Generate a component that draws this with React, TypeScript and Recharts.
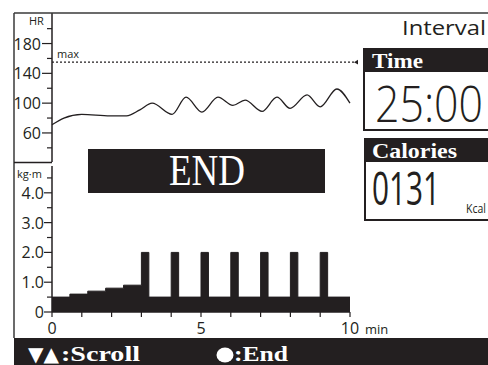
import React from 'react';
import { LineChart, Line, AreaChart, Area, XAxis, YAxis, ReferenceLine } from 'recharts';

const INK = '#231f20';
const SANS = '"Open Sans", "Liberation Sans", sans-serif';
const SERIF = '"Liberation Serif", "DejaVu Serif", serif';

// heart rate trace (minutes, bpm)
const hrTimes = [0, 0.4, 1.0, 1.95, 2.5, 2.95, 3.36, 4.03, 4.5, 5.03, 5.57, 6.07, 6.48, 7.05, 7.55, 7.99, 8.56, 9.0, 9.56, 10];
const hrValues = [71, 80, 85, 83, 83, 91, 100, 85, 108, 88, 108, 97, 104, 89, 108, 93, 111, 95, 119, 100];
const hrMax = 155;
const hrTicks = [40, 60, 80, 100, 120, 140, 160, 180, 200];
const hrLabels = [60, 100, 140, 180];

// load profile (minutes, kg·m), step changes
const loadTimes = [0, 0.6, 1.2, 1.8, 2.4, 3.0, 3.25, 4.0, 4.25, 5.0, 5.25, 6.0, 6.25, 7.0, 7.25, 8.0, 8.25, 9.0, 9.25, 10];
const loadValues = [0.5, 0.6, 0.7, 0.8, 0.9, 2.0, 0.5, 2.0, 0.5, 2.0, 0.5, 2.0, 0.5, 2.0, 0.5, 2.0, 0.5, 2.0, 0.5, 0.5];
const loadTicks = [0, 0.5, 1, 1.5, 2, 2.5, 3, 3.5, 4, 4.5];
const loadLabels = [0, 1, 2, 3, 4];

const minuteTicks = [0, 1, 2, 3, 4, 5, 6, 7, 8, 9, 10];
const minuteLabels = [0, 5, 10];

const hrData = hrTimes.map((t, i) => ({ t, hr: hrValues[i] }));
const loadData = loadTimes.map((t, i) => ({ t, load: loadValues[i] }));

const HrTick = (props: any) => {
  const { x, y, payload } = props;
  const major = hrLabels.includes(payload.value);
  return (
    <g>
      <line x1={x - (major ? 10 : 5)} x2={x} y1={y} y2={y} stroke={INK} strokeWidth={1.2} />
      {major && (
        <text x={x - 11} y={y + 6} textAnchor="end" fontFamily={SANS} fontSize={16} fill={INK}>
          {payload.value}
        </text>
      )}
    </g>
  );
};

const LoadTick = (props: any) => {
  const { x, y, payload } = props;
  const major = loadLabels.includes(payload.value);
  return (
    <g>
      <line x1={x - (major ? 8 : 5)} x2={x} y1={y} y2={y} stroke={INK} strokeWidth={1.2} />
      {major && (
        <text x={x - 8} y={y + 6} textAnchor="end" fontFamily={SANS} fontSize={16} fill={INK}>
          {payload.value === 0 ? '0' : payload.value.toFixed(1)}
        </text>
      )}
    </g>
  );
};

const MinuteTick = (props: any) => {
  const { x, y, payload } = props;
  const labelled = minuteLabels.includes(payload.value);
  return (
    <g>
      <line x1={x} x2={x} y1={y} y2={y + 5} stroke={INK} strokeWidth={1.2} />
      {labelled && (
        <text x={x} y={y + 22} textAnchor="middle" fontFamily={SANS} fontSize={16} fill={INK}>
          {payload.value}
        </text>
      )}
      {payload.value === 10 && (
        <text x={x + 15} y={y + 22} fontFamily={SANS} fontSize={13} fill={INK}>min</text>
      )}
    </g>
  );
};

const MaxLabel = (props: any) => {
  const vb = props.viewBox || {};
  const x0 = vb.x ?? 0;
  const y0 = vb.y ?? 0;
  const x1 = x0 + (vb.width ?? 0);
  return (
    <g>
      <text x={x0 + 5} y={y0 - 4} fontFamily={SANS} fontSize={11} fill={INK}>max</text>
      <polygon points={`${x1 - 4},${y0} ${x1 + 1},${y0 - 3} ${x1 + 1},${y0 + 3}`} fill={INK} />
    </g>
  );
};

const App: React.FC = () => {
  return (
    <div style={{ position: 'absolute', left: 0, top: 0, width: 488, height: 365, background: '#fff', overflow: 'hidden' }}>
      <div style={{ position: 'absolute', left: 14, top: 13 }}>
        <LineChart width={344} height={149} data={hrData} margin={{ top: 0, right: 0, bottom: 0, left: 0 }}>
          <XAxis dataKey="t" type="number" domain={[0, 10.27]} hide />
          <YAxis
            type="number"
            domain={[21, 221]}
            ticks={hrTicks}
            interval={0}
            width={38}
            tickSize={0}
            tickMargin={0}
            tickLine={false}
            axisLine={{ stroke: INK, strokeWidth: 1.5 }}
            tick={(p: any) => <HrTick {...p} />}
          />
          <ReferenceLine y={hrMax} stroke={INK} strokeWidth={1.2} strokeDasharray="2 2" label={(p: any) => <MaxLabel {...p} />} />
          <Line dataKey="hr" type="monotone" dot={false} stroke={INK} strokeWidth={1.3} isAnimationActive={false} />
        </LineChart>
      </div>

      <div style={{ position: 'absolute', left: 14, top: 166 }}>
        <AreaChart width={376} height={172} data={loadData} margin={{ top: 0, right: 40, bottom: 0, left: 0 }}>
          <XAxis
            dataKey="t"
            type="number"
            domain={[0, 10]}
            ticks={minuteTicks}
            interval={0}
            height={26}
            tickSize={0}
            tickMargin={0}
            tickLine={false}
            axisLine={{ stroke: INK, strokeWidth: 1.5 }}
            tick={(p: any) => <MinuteTick {...p} />}
          />
          <YAxis
            type="number"
            domain={[0, 4.9]}
            ticks={loadTicks}
            interval={0}
            width={38}
            tickSize={0}
            tickMargin={0}
            tickLine={false}
            axisLine={{ stroke: INK, strokeWidth: 1.5 }}
            tick={(p: any) => <LoadTick {...p} />}
          />
          <Area dataKey="load" type="stepAfter" stroke={INK} strokeWidth={1} fill={INK} fillOpacity={1} isAnimationActive={false} />
        </AreaChart>
      </div>

      <svg width={488} height={365} style={{ position: 'absolute', left: 0, top: 0, pointerEvents: 'none' }}>
        {/* frame */}
        <line x1={14} x2={488} y1={13} y2={13} stroke="#3a3a3a" strokeWidth={1.5} />
        <line x1={14} x2={14} y1={13} y2={338} stroke="#3a3a3a" strokeWidth={1.5} />
        <line x1={14} x2={52} y1={162.5} y2={162.5} stroke={INK} strokeWidth={1.5} />
        <text x={29} y={25} fontFamily={SANS} fontSize={11} fill={INK}>HR</text>
        <text x={17} y={178} fontFamily={SANS} fontSize={11} fill={INK}>kg·m</text>

        {/* END banner */}
        <rect x={88} y={149} width={237} height={44} fill={INK} />
        <text x={169} y={185} fontFamily={SERIF} fontSize={44} fill="#fff" textLength={76} lengthAdjust="spacingAndGlyphs">END</text>

        {/* mode */}
        <text x={402} y={35} fontFamily={SANS} fontSize={20} fill={INK} textLength={84} lengthAdjust="spacingAndGlyphs">Interval</text>

        {/* time box */}
        <rect x={364} y={49} width={140} height={81} fill="none" stroke={INK} strokeWidth={2} />
        <rect x={363} y={48} width={140} height={24} fill={INK} />
        <text x={372} y={68} fontFamily={SERIF} fontWeight="bold" fontSize={22} fill="#fff" textLength={51} lengthAdjust="spacingAndGlyphs">Time</text>
        <text x={375} y={122} fontFamily={SANS} fontWeight={300} fontSize={50} fill={INK} textLength={108} lengthAdjust="spacingAndGlyphs">25:00</text>

        {/* calories box */}
        <rect x={365} y={139} width={140} height={81} fill="none" stroke={INK} strokeWidth={2} />
        <rect x={364} y={138} width={140} height={24} fill={INK} />
        <text x={372} y={158} fontFamily={SERIF} fontWeight="bold" fontSize={22} fill="#fff" textLength={85} lengthAdjust="spacingAndGlyphs">Calories</text>
        <text x={372} y={205} fontFamily={SANS} fontSize={46} fill={INK} textLength={68} lengthAdjust="spacingAndGlyphs">0131</text>
        <text x={466} y={213} fontFamily={SANS} fontSize={12} fill={INK} textLength={20} lengthAdjust="spacingAndGlyphs">Kcal</text>

        {/* bottom help bar */}
        <rect x={14} y={338} width={474} height={27} fill={INK} />
        <text x={28} y={361} fontFamily='"DejaVu Sans", sans-serif' fontSize={20} fill="#fff" textLength={31} lengthAdjust="spacingAndGlyphs">▼▲</text>
        <text x={61} y={361} fontFamily={SERIF} fontWeight="bold" fontSize={21} fill="#fff" textLength={79} lengthAdjust="spacingAndGlyphs">:Scroll</text>
        <ellipse cx={225} cy={355} rx={8.5} ry={7.5} fill="#fff" />
        <text x={234} y={361} fontFamily={SERIF} fontWeight="bold" fontSize={21} fill="#fff" textLength={54} lengthAdjust="spacingAndGlyphs">:End</text>
      </svg>
    </div>
  );
};

export default App;
